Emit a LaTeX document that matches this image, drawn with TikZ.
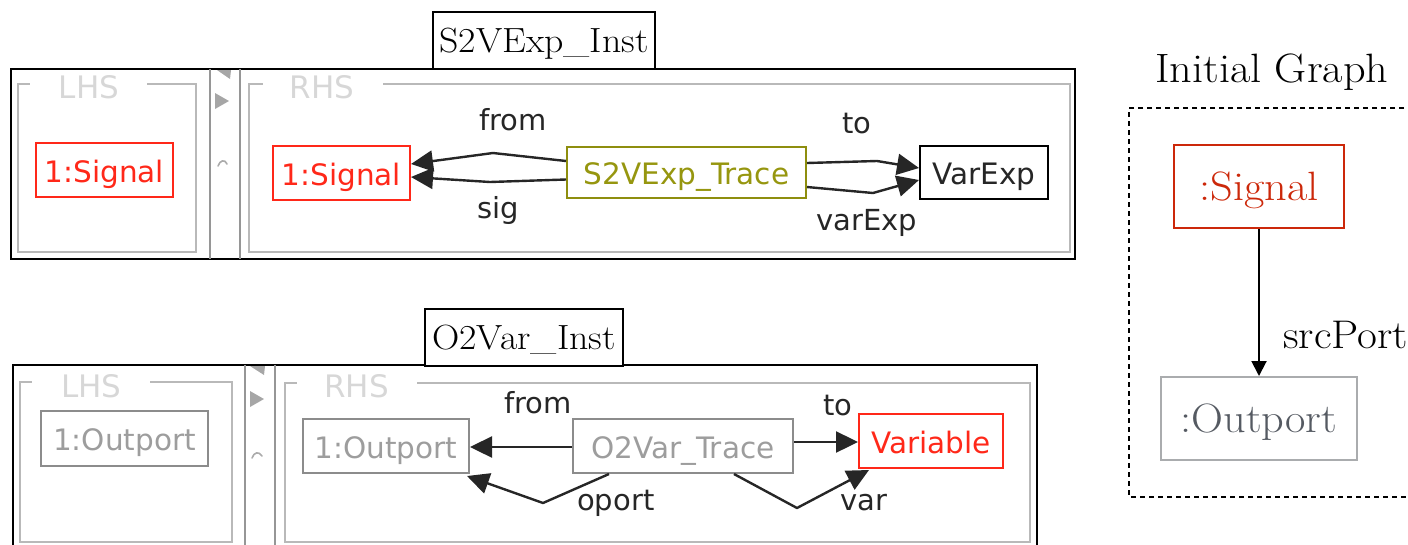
\documentclass[tikz,border=0pt]{standalone}
\usepackage{fontspec}
\newfontfamily\uifont{DejaVu Sans}
\newfontfamily\bookfont[FakeStretch=1.08]{Latin Modern Roman}
\usetikzlibrary{arrows.meta,calc}
\definecolor{uired}{RGB}{255,40,25}
\definecolor{sigred}{RGB}{204,40,10}
\definecolor{traceolive}{RGB}{150,150,15}
\definecolor{panelgray}{RGB}{185,185,185}
\definecolor{tagcolor}{RGB}{215,215,215}
\definecolor{divgray}{RGB}{150,150,150}
\definecolor{nodegray}{RGB}{140,140,140}
\definecolor{portgray}{RGB}{170,172,174}
\definecolor{porttext}{RGB}{85,90,98}
\begin{document}
\begin{tikzpicture}[x=1pt,y=-1pt,
  rulebox/.style={draw=black,line width=2.8pt},
  titlebox/.style={draw=black,line width=2pt,fill=white,inner sep=0pt,
    font=\bookfont\fontsize{35}{40}\selectfont,text height=24pt,text depth=0pt},
  panel/.style={draw=panelgray,line width=1.8pt},
  divider/.style={draw=divgray,line width=1.6pt},
  divmark/.style={fill=divgray!85},
  paneltag/.style={text=tagcolor,inner sep=0pt,anchor=base,font=\uifont\fontsize{31}{34}\selectfont},
  uinode/.style={inner sep=0pt,line width=2pt,font=\uifont\fontsize{29.5}{34}\selectfont,
    text height=24pt,text depth=0pt},
  redbox/.style={uinode,draw=uired,text=uired},
  olivebox/.style={uinode,draw=traceolive!95!black,text=traceolive},
  blackbox/.style={uinode,draw=black,text=black!85},
  graybox/.style={uinode,draw=nodegray,text=nodegray!85},
  edgelabel/.style={inner sep=0pt,anchor=base,text=black!85,font=\uifont\fontsize{29}{34}\selectfont},
  link/.style={draw=black!85,line width=2.4pt,line join=round,
    -{Triangle[length=22pt,width=21pt]}},
  serifbox/.style={inner sep=0pt,line width=2pt,font=\bookfont\fontsize{41}{44}\selectfont,
    text height=28pt,text depth=1pt},
  seriflabel/.style={inner sep=0pt,font=\bookfont\fontsize{41}{44}\selectfont},
  graphedge/.style={draw=black,line width=2pt,-{Triangle[length=15pt,width=15pt]}}
]
\path[use as bounding box] (0,0) rectangle (1408,544);
\clip (0,0) rectangle (1408,544);

% ---------------- rule S2VExp_Inst ----------------
\draw[rulebox] (11,69) rectangle (1075,259);
\draw[panel] (147,84) -- (196,84) -- (196,252) -- (18,252) -- (18,84) -- (30,84);
\draw[panel] (383,84) -- (1070,84) -- (1070,252) -- (249,252) -- (249,84) -- (263,84);
\node[paneltag] (lhsA) at (89,98) {LHS};
\node[paneltag] (rhsA) at (322,98) {RHS};
\draw[divider] (210,69) -- (210,259);
\draw[divider] (240,69) -- (240,259);
\fill[divmark] (217,70) -- (231,70) -- (230,79) -- cycle;
\fill[divmark] (215,93) -- (229,101) -- (215,109) -- cycle;
\draw[divgray!80,line width=1.6pt,line cap=round] (218,166) .. controls (220,160) and (225,159) .. (227,164);
\node[titlebox,minimum width=222pt,minimum height=57pt] (titleA) at (544,40.5) {S2VExp\_Inst};

\node[redbox,minimum width=137pt,minimum height=54pt] (lsig) at (104.5,170) {1:Signal};
\node[redbox,minimum width=137pt,minimum height=54pt] (rsig) at (341.5,173) {1:Signal};
\node[olivebox,minimum width=239pt,minimum height=51pt] (trace) at (686.5,172.5) {S2VExp\_Trace};
\node[blackbox,minimum width=128pt,minimum height=53pt] (varexp) at (984,172.5) {VarExp};

\coordinate (fromBend) at (493,153);
\coordinate (sigBend) at (490,182);
\coordinate (toBend) at (877,161);
\coordinate (varexpBend) at (873,193);
\draw[link] ($(trace.west)+(0,-11.5)$) -- (fromBend) -- ($(rsig.east)+(0,-9)$);
\draw[link] ($(trace.west)+(0,7)$) -- (sigBend) -- ($(rsig.east)+(0,4)$);
\draw[link] ($(trace.east)+(0,-9.5)$) -- (toBend) -- ($(varexp.west)+(0,-4.5)$);
\draw[link] ($(trace.east)+(0,14.5)$) -- (varexpBend) -- ($(varexp.west)+(0,7.5)$);
\node[edgelabel] (fromA) at (513,130) {from};
\node[edgelabel] (sigA) at (498,218) {sig};
\node[edgelabel] (toA) at (857,133) {to};
\node[edgelabel] (varexpA) at (867,230) {varExp};

% ---------------- rule O2Var_Inst ----------------
\draw[rulebox] (13,365) rectangle (1037,560);
\draw[panel] (150,382) -- (232,382) -- (232,542) -- (20,542) -- (20,382) -- (32,382);
\draw[panel] (417,383) -- (1030,383) -- (1030,542) -- (285,542) -- (285,383) -- (297,383);
\node[paneltag] (lhsB) at (91.5,397) {LHS};
\node[paneltag] (rhsB) at (356.5,397) {RHS};
\draw[divider] (245,365) -- (245,560);
\draw[divider] (275,365) -- (275,560);
\fill[divmark] (250,366) -- (265,366) -- (264,375) -- cycle;
\fill[divmark] (250,391) -- (264,399) -- (250,407) -- cycle;
\draw[divgray!80,line width=1.6pt,line cap=round] (252,458) .. controls (254,452) and (259,451) .. (262,456);
\node[titlebox,minimum width=198pt,minimum height=57pt] (titleB) at (524,337.5) {O2Var\_Inst};

\node[graybox,minimum width=167pt,minimum height=55pt] (lout) at (124.5,438.5) {1:Outport};
\node[graybox,minimum width=166pt,minimum height=54pt] (rout) at (386,446) {1:Outport};
\node[graybox,minimum width=220pt,minimum height=54pt] (otrace) at (683,446) {O2Var\_Trace};
\node[redbox,minimum width=144pt,minimum height=54pt] (var) at (931,441) {Variable};

\coordinate (oportBend) at (543,503);
\coordinate (varBend) at (797,508);
\draw[link] ($(otrace.west)+(0,1)$) -- ($(rout.east)+(0,1)$);
\draw[link] ($(otrace.south west)+(37,0)$) -- (oportBend) -- ($(rout.south east)+(-3,2)$);
\draw[link] ($(otrace.east)+(0,-4)$) -- ($(var.west)+(0,1)$);
\draw[link] ($(otrace.south west)+(162,0)$) -- (varBend) -- ($(var.south west)+(11,1)$);
\node[edgelabel] (fromB) at (538,413) {from};
\node[edgelabel,anchor=base west] (oportB) at (577,510) {oport};
\node[edgelabel] (toB) at (838,415) {to};
\node[edgelabel] (varB) at (864,510) {var};

% ---------------- initial graph ----------------
\node[seriflabel,anchor=base west] (initTitle) at (1155,82) {Initial Graph};
\draw[black,line width=1.8pt,dash pattern=on 5pt off 4pt] (1440,108) -- (1129,108) -- (1129,497) -- (1440,497);
\node[serifbox,draw=sigred,text=sigred,minimum width=170pt,minimum height=83pt] (gsig) at (1259,186.5) {:Signal};
\node[serifbox,draw=portgray,text=porttext,minimum width=196pt,minimum height=83pt] (gout) at (1259,418.5) {:Outport};
\draw[graphedge] (gsig.south) -- (gout.north);
\node[seriflabel,anchor=base west,font=\bookfont\fontsize{40}{44}\selectfont] (srcport) at (1283,348) {srcPort};
\end{tikzpicture}
\end{document}
